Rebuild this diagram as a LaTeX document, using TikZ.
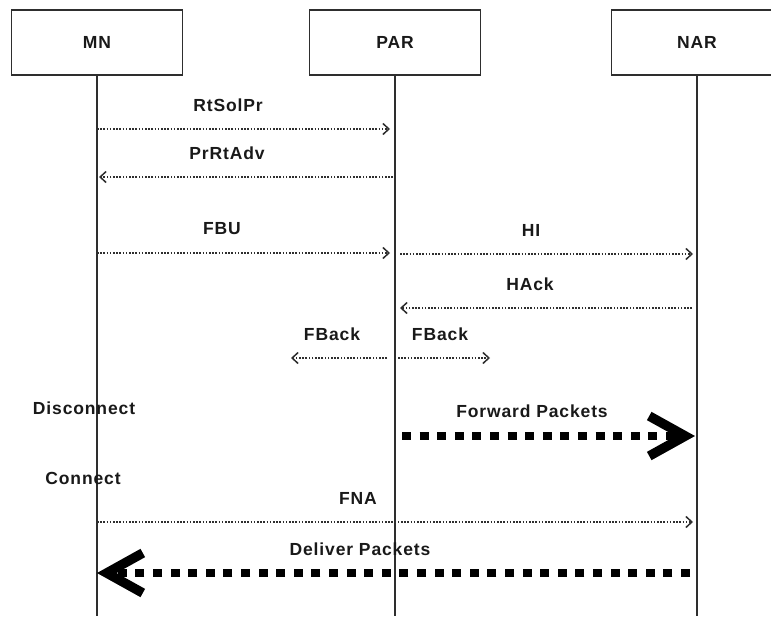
\documentclass[tikz,border=0pt]{standalone}
\usepackage{fontspec}
\setmainfont{Liberation Sans}
\usetikzlibrary{arrows.meta,positioning}
\definecolor{ink}{gray}{0.1}
\definecolor{wire}{gray}{0.18}
\newcommand{\lab}{\fontsize{17.5}{19}\selectfont\bfseries\addfontfeature{LetterSpace=5}}
\tikzset{
  actor/.style = {draw=wire, line width=1.2pt, minimum width=171pt, minimum height=65pt,
                  inner sep=0pt, font=\lab, text=ink},
  life/.style  = {draw=wire, line width=1.8pt},
  msg/.style   = {wire, line width=1.7pt, dash pattern=on 1.6pt off 1.6pt,
                  -{Straight Barb[length=6pt,width=11pt,line width=1.5pt]}},
  bulk/.style  = {black, line width=8pt, dash pattern=on 9pt off 8.6pt,
                  -{Straight Barb[length=36pt,width=40pt,line width=9.5pt]}},
  tag/.style   = {font=\lab, text=ink, inner sep=0pt},
}

\begin{document}
\begin{tikzpicture}[x=1pt,y=-1pt]
  \useasboundingbox (0,0) rectangle (771,616);
  \clip (0,0) rectangle (771,616);
  % entities and lifelines
  \node[actor] (mn)  at (97,42.5)  {MN};
  \node[actor] (par) at (395,42.5) {PAR};
  \node[actor] (nar) at (697,42.5) {NAR};
  \foreach \a in {mn,par,nar}
    {\coordinate (\a-end) at (\a.south |- 0,616);
     \draw[life] (\a.south) -- (\a-end);}
  % signalling messages
  \foreach \nm/\xa/\xb/\y/\txt/\lx in {rts/97/390/129/RtSolPr/228, adv/393/99/177/PrRtAdv/227,
      fbu/97/390/253/FBU/222, hi/400/693/254/HI/531, hack/692/400/308/HAck/530,
      fbl/387/291/358/FBack/332, fbr/398/490/358/FBack/440, fna/97/693/522/FNA/358}
    {\coordinate (\nm-a) at (\xa,\y);
     \coordinate (\nm-b) at (\xb,\y);
     \draw[msg] (\nm-a) -- (\nm-b);
     \node[tag] (\nm) at (\lx,\y-24) {\txt};}
  % data packets
  \coordinate (fwd-a) at (402,436);
  \coordinate (fwd-b) at (695,436);
  \draw[bulk] (fwd-a) -- (fwd-b);
  \node[tag] (fwd) at (532,411) {Forward Packets};
  \coordinate (dlv-a) at (690,573);
  \coordinate (dlv-b) at (97,573);
  \draw[bulk] (dlv-a) -- (dlv-b);
  \node[tag] (dlv) at (360,549) {Deliver Packets};
  \node[tag] (disc) at (84,408) {Disconnect};
  \node[tag] (conn) at (83,478) {Connect};
\end{tikzpicture}
\end{document}
